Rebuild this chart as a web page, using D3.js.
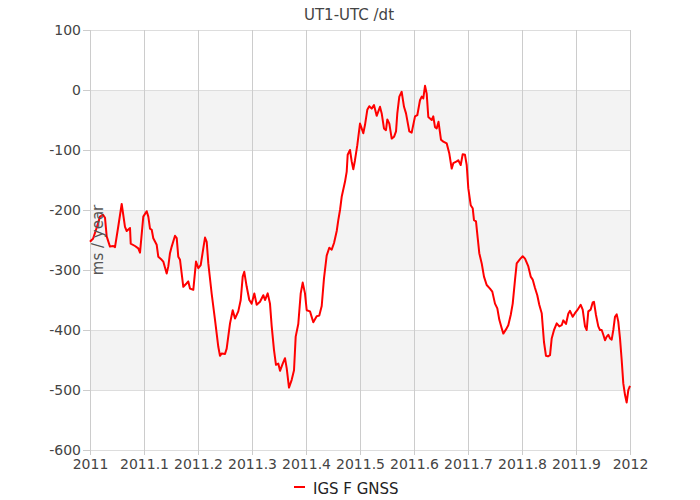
<!DOCTYPE html>
<html>
<head>
<meta charset="utf-8">
<script src="https://cdn.jsdelivr.net/npm/d3@7"></script>
<style>
  body { margin: 0; background: #fff; }
  svg { display: block; font-family: "DejaVu Sans", Verdana, sans-serif; }
</style>
</head>
<body>
<svg id="chart" width="700" height="500"></svg>
<script>
const title = "UT1-UTC /dt";
const yTitle = "ms / year";
const seriesName = "IGS F GNSS";

const xTicks = [2011, 2011.1, 2011.2, 2011.3, 2011.4, 2011.5, 2011.6, 2011.7, 2011.8, 2011.9, 2012];
const xTickLabels = ["2011", "2011.1", "2011.2", "2011.3", "2011.4", "2011.5", "2011.6", "2011.7", "2011.8", "2011.9", "2012"];
const yTicks = [100, 0, -100, -200, -300, -400, -500, -600];
const yTickLabels = ["100", "0", "-100", "-200", "-300", "-400", "-500", "-600"];
const bands = [[0, -100], [-200, -300], [-400, -500]];

const years = [
  2011.0000, 2011.0031, 2011.0056, 2011.0130, 2011.0185, 2011.0241, 2011.0278, 2011.0309, 2011.0370, 2011.0431,
  2011.0463, 2011.0519, 2011.0587, 2011.0648, 2011.0680, 2011.0741, 2011.0754, 2011.0833, 2011.0894, 2011.0926,
  2011.0987, 2011.1050, 2011.1080, 2011.1111, 2011.1143, 2011.1172, 2011.1235, 2011.1265, 2011.1328, 2011.1357,
  2011.1420, 2011.1450, 2011.1481, 2011.1513, 2011.1574, 2011.1606, 2011.1635, 2011.1667, 2011.1728, 2011.1791,
  2011.1820, 2011.1852, 2011.1913, 2011.1963, 2011.2006, 2011.2050, 2011.2098, 2011.2130, 2011.2161, 2011.2191,
  2011.2254, 2011.2315, 2011.2376, 2011.2407, 2011.2439, 2011.2500, 2011.2531, 2011.2593, 2011.2643, 2011.2685,
  2011.2746, 2011.2791, 2011.2828, 2011.2857, 2011.2902, 2011.2950, 2011.2994, 2011.3043, 2011.3087, 2011.3148,
  2011.3209, 2011.3241, 2011.3291, 2011.3333, 2011.3365, 2011.3407, 2011.3444, 2011.3487, 2011.3519, 2011.3569,
  2011.3611, 2011.3643, 2011.3685, 2011.3735, 2011.3778, 2011.3809, 2011.3857, 2011.3902, 2011.3939, 2011.3981,
  2011.4013, 2011.4074, 2011.4135, 2011.4198, 2011.4246, 2011.4291, 2011.4333, 2011.4383, 2011.4431, 2011.4476,
  2011.4519, 2011.4569, 2011.4598, 2011.4630, 2011.4661, 2011.4722, 2011.4754, 2011.4772, 2011.4815, 2011.4846,
  2011.4876, 2011.4907, 2011.4950, 2011.5000, 2011.5031, 2011.5061, 2011.5093, 2011.5135, 2011.5172, 2011.5217,
  2011.5259, 2011.5309, 2011.5370, 2011.5402, 2011.5444, 2011.5481, 2011.5506, 2011.5543, 2011.5587, 2011.5630,
  2011.5667, 2011.5691, 2011.5728, 2011.5772, 2011.5815, 2011.5852, 2011.5913, 2011.5957, 2011.6019, 2011.6061,
  2011.6111, 2011.6143, 2011.6172, 2011.6204, 2011.6235, 2011.6265, 2011.6328, 2011.6357, 2011.6389, 2011.6420,
  2011.6454, 2011.6500, 2011.6543, 2011.6606, 2011.6654, 2011.6698, 2011.6728, 2011.6791, 2011.6820, 2011.6865,
  2011.6902, 2011.6944, 2011.6976, 2011.7006, 2011.7050, 2011.7087, 2011.7111, 2011.7148, 2011.7180, 2011.7209,
  2011.7254, 2011.7296, 2011.7346, 2011.7407, 2011.7450, 2011.7500, 2011.7543, 2011.7580, 2011.7624, 2011.7654,
  2011.7704, 2011.7746, 2011.7791, 2011.7828, 2011.7870, 2011.7902, 2011.7963, 2011.8013, 2011.8056, 2011.8117,
  2011.8161, 2011.8198, 2011.8241, 2011.8283, 2011.8320, 2011.8365, 2011.8407, 2011.8444, 2011.8481, 2011.8519,
  2011.8550, 2011.8593, 2011.8643, 2011.8691, 2011.8735, 2011.8765, 2011.8815, 2011.8857, 2011.8889, 2011.8939,
  2011.8981, 2011.9024, 2011.9087, 2011.9124, 2011.9167, 2011.9198, 2011.9228, 2011.9272, 2011.9309, 2011.9333,
  2011.9370, 2011.9413, 2011.9444, 2011.9476, 2011.9506, 2011.9537, 2011.9569, 2011.9598, 2011.9630, 2011.9661,
  2011.9691, 2011.9722, 2011.9754, 2011.9783, 2011.9815, 2011.9846, 2011.9876, 2011.9907, 2011.9938, 2011.9969,
  2012.0000
];
const values = [
  -253, -250, -248, -228, -211, -208, -213, -244, -261, -260,
  -262, -230, -190, -228, -235, -230, -256, -260, -264, -271,
  -211, -202, -211, -231, -233, -247, -258, -278, -283, -286,
  -306, -294, -272, -261, -243, -247, -278, -283, -328, -322,
  -319, -331, -333, -286, -297, -292, -264, -246, -253, -289,
  -340, -383, -428, -443, -439, -440, -431, -389, -367, -381,
  -369, -350, -311, -303, -328, -350, -356, -339, -358, -353,
  -342, -350, -339, -356, -394, -433, -458, -456, -468, -456,
  -447, -464, -496, -483, -467, -411, -390, -339, -321, -339,
  -367, -369, -387, -377, -376, -360, -314, -276, -263, -266,
  -255, -235, -217, -200, -178, -153, -136, -108, -100, -119,
  -132, -117, -92, -56, -64, -72, -58, -33, -27, -31,
  -25, -43, -28, -39, -64, -67, -49, -56, -81, -78,
  -69, -39, -11, -3, -28, -39, -69, -71, -44, -42,
  -17, -11, -14, 7, -6, -45, -50, -44, -62, -64,
  -53, -83, -86, -89, -106, -131, -122, -119, -117, -125,
  -107, -108, -125, -164, -192, -197, -217, -219, -247, -272,
  -289, -311, -325, -331, -336, -356, -364, -383, -397, -406,
  -399, -392, -375, -356, -317, -289, -282, -277, -281, -294,
  -311, -316, -330, -342, -358, -372, -420, -443, -444, -442,
  -414, -400, -389, -394, -392, -384, -390, -373, -368, -378,
  -372, -367, -358, -366, -394, -400, -369, -366, -354, -353,
  -375, -394, -400, -400, -408, -417, -411, -408, -414, -416,
  -400, -378, -374, -386, -414, -450, -489, -508, -521, -500,
  -493
];

const W = 700, H = 500;
const margin = { top: 30, right: 70, bottom: 50, left: 90 };
const iw = W - margin.left - margin.right;
const ih = H - margin.top - margin.bottom;

const svg = d3.select("#chart");
const g = svg.append("g").attr("transform", `translate(${margin.left},${margin.top})`);

const x = d3.scaleLinear().domain([2011, 2012]).range([0, iw]);
const y = d3.scaleLinear().domain([-600, 100]).range([ih, 0]);

// bands
g.selectAll("rect.band").data(bands).enter().append("rect")
  .attr("class", "band")
  .attr("x", 0).attr("width", iw)
  .attr("y", d => y(d[0])).attr("height", d => y(d[1]) - y(d[0]))
  .attr("fill", "#f3f3f3");

// horizontal grid
g.selectAll("line.hg").data(yTicks).enter().append("line")
  .attr("x1", 0).attr("x2", iw)
  .attr("y1", d => y(d)).attr("y2", d => y(d))
  .attr("stroke", "#dddddd").attr("stroke-width", 1)
  .attr("shape-rendering", "crispEdges");

// vertical grid
g.selectAll("line.vg").data(xTicks).enter().append("line")
  .attr("x1", d => x(d)).attr("x2", d => x(d))
  .attr("y1", 0).attr("y2", ih)
  .attr("stroke", "#cccccc").attr("stroke-width", 1)
  .attr("shape-rendering", "crispEdges");

// x axis
const xAxis = d3.axisBottom(x).tickValues(xTicks)
  .tickFormat((d, i) => xTickLabels[i]).tickSize(5).tickPadding(4);
const xg = g.append("g").attr("transform", `translate(0,${ih})`).call(xAxis);
xg.select(".domain").remove();
xg.selectAll(".tick line").attr("stroke", "#cccccc").attr("shape-rendering", "crispEdges");
xg.selectAll(".tick text").attr("fill", "#444").style("font-size", "14px")
  .style("font-family", "'DejaVu Sans', Verdana, sans-serif");

// y axis
const yAxis = d3.axisLeft(y).tickValues(yTicks)
  .tickFormat((d, i) => yTickLabels[i]).tickSize(7).tickPadding(2);
const yg = g.append("g").call(yAxis);
yg.select(".domain").remove();
yg.selectAll(".tick line").attr("stroke", "#cccccc").attr("shape-rendering", "crispEdges");
yg.selectAll(".tick text").attr("fill", "#444").style("font-size", "14px")
  .style("font-family", "'DejaVu Sans', Verdana, sans-serif");

// line
const data = years.map((yr, i) => ({ x: yr, y: values[i] }));
const line = d3.line().x(d => x(d.x)).y(d => y(d.y));
g.append("path").datum(data)
  .attr("d", line)
  .attr("fill", "none")
  .attr("stroke", "#ff0000")
  .attr("stroke-width", 2)
  .attr("stroke-linejoin", "round");

// title
svg.append("text")
  .attr("x", 349).attr("y", 20)
  .attr("text-anchor", "middle")
  .attr("fill", "#444")
  .style("font-size", "15px")
  .text(title);

// y axis title
svg.append("text")
  .attr("transform", `translate(103,240) rotate(-90)`)
  .attr("text-anchor", "middle")
  .attr("fill", "#555")
  .style("font-size", "15px")
  .text(yTitle);

// legend
const legend = svg.append("g").attr("transform", "translate(294,487)");
legend.append("line").attr("x1", 0).attr("x2", 11).attr("y1", 0).attr("y2", 0)
  .attr("stroke", "#ff0000").attr("stroke-width", 2);
legend.append("text").attr("x", 19).attr("y", 2).attr("dy", "0.3em")
  .attr("fill", "#222").style("font-size", "15px").text(seriesName);
</script>
</body>
</html>
